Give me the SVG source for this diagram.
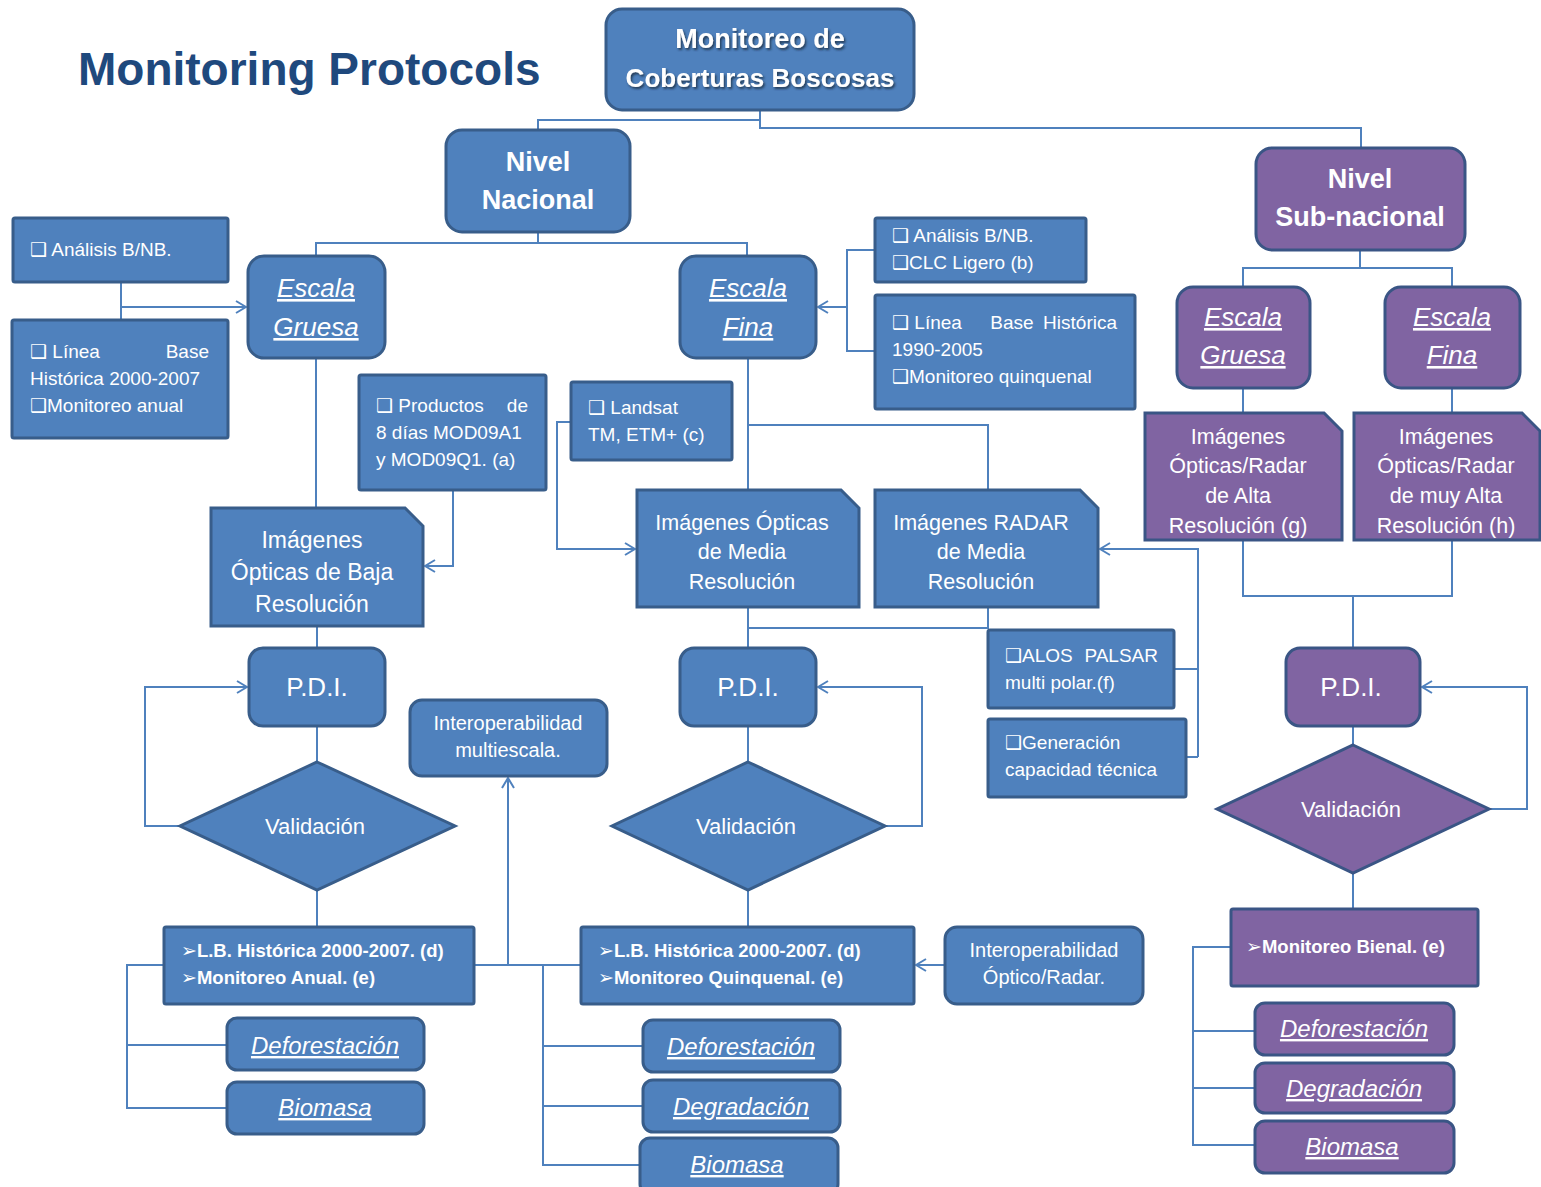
<svg xmlns="http://www.w3.org/2000/svg" width="1541" height="1187" viewBox="0 0 1541 1187">
<defs>
<style>
.b{fill:#4F81BD;stroke:#385D8A;stroke-width:3}
.p{fill:#8064A2;stroke:#3A5585;stroke-width:3}
.c{fill:none;stroke:#4F81BD;stroke-width:2}
.ca{fill:none;stroke:#4F81BD;stroke-width:2;marker-end:url(#a)}
text{font-family:"Liberation Sans","DejaVu Sans",sans-serif;fill:#fff}
.m{text-anchor:middle}
.e{text-anchor:end}
.h{font-size:27px;font-weight:bold}
.es{font-size:26px;font-style:italic;text-decoration:underline}
.s{font-size:19px}
.im{font-size:21.5px}
.pd{font-size:26px}
.v{font-size:22px}
.lb{font-size:18.5px;font-weight:bold}
.ar{font-family:"DejaVu Sans",sans-serif;font-size:19px}
.r{font-size:24px;font-style:italic;text-decoration:underline}
.io{font-size:20px}
</style>
<marker id="a" viewBox="0 0 12 14" refX="11" refY="7" markerWidth="12" markerHeight="14" markerUnits="userSpaceOnUse" orient="auto">
<path d="M1,1 L11,7 L1,13" fill="none" stroke="#4F81BD" stroke-width="2"/>
</marker>
<filter id="sh" x="-10%" y="-20%" width="120%" height="140%">
<feDropShadow dx="1.5" dy="2" stdDeviation="1.2" flood-color="#1a2a40" flood-opacity="0.8"/>
</filter>
</defs>
<rect width="1541" height="1187" fill="#fff"/>
<text x="78" y="85" style="font-size:46px;font-weight:bold;fill:#1F497D">Monitoring Protocols</text>

<g id="connectors">
<path class="c" d="M760,110 V128 H1361 V148"/>
<path class="c" d="M760,120 H538 V130"/>
<path class="c" d="M538,232 V243 H316 V256"/>
<path class="c" d="M538,243 H747 V256"/>
<path class="c" d="M121,282 V320"/>
<path class="ca" d="M121,307 H246"/>
<path class="c" d="M875,250 H847 V351 H875"/>
<path class="ca" d="M847,307 H818"/>
<path class="c" d="M316,358 V508"/>
<path class="ca" d="M453,490 V566 H425"/>
<path class="c" d="M748,358 V490"/>
<path class="c" d="M748,425 H988 V490"/>
<path class="ca" d="M571,422 H557 V549 H635"/>
<path class="c" d="M317,626 V648"/>
<path class="c" d="M317,726 V762"/>
<path class="ca" d="M180,826 H145 V687 H247"/>
<path class="c" d="M317,890 V927"/>
<path class="c" d="M748,607 V648"/>
<path class="c" d="M988,607 V628 H748"/>
<path class="c" d="M748,726 V762"/>
<path class="ca" d="M885,826 H922 V687 H818"/>
<path class="c" d="M748,890 V927"/>
<path class="c" d="M1174,669 H1198"/>
<path class="c" d="M1186,757 H1198"/>
<path class="ca" d="M1198,757 V549 H1100"/>
<path class="ca" d="M945,965 H916"/>
<path class="c" d="M164,965 H127 V1108 H227"/>
<path class="c" d="M127,1045 H227"/>
<path class="c" d="M474,965 H581"/>
<path class="ca" d="M508,965 V778"/>
<path class="c" d="M581,965 H543 V1165 H640"/>
<path class="c" d="M543,1046 H643"/>
<path class="c" d="M543,1106 H643"/>
<path class="c" d="M1360,250 V268 H1243 V287"/>
<path class="c" d="M1360,268 H1452 V287"/>
<path class="c" d="M1243,388 V413"/>
<path class="c" d="M1452,388 V413"/>
<path class="c" d="M1243,540 V596 H1452 V540"/>
<path class="c" d="M1353,596 V648"/>
<path class="c" d="M1353,726 V745"/>
<path class="ca" d="M1489,809 H1527 V687 H1422"/>
<path class="c" d="M1353,873 V909"/>
<path class="c" d="M1231,947 H1193 V1145 H1255"/>
<path class="c" d="M1193,1031 H1255"/>
<path class="c" d="M1193,1088 H1255"/>
</g>

<g id="n-top">
<rect class="b" x="606" y="9" width="308" height="101" rx="16"/>
<g filter="url(#sh)">
<text class="m h" x="760" y="48">Monitoreo  de</text>
<text class="m h" x="760" y="87" style="font-size:26px">Coberturas Boscosas</text>
</g>
</g>

<g id="n-nacional">
<rect class="b" x="446" y="130" width="184" height="102" rx="16"/>
<text class="m h" x="538" y="171">Nivel</text>
<text class="m h" x="538" y="209">Nacional</text>
</g>

<g id="n-subnacional">
<rect class="p" x="1256" y="148" width="209" height="102" rx="16"/>
<text class="m h" x="1360" y="188">Nivel</text>
<text class="m h" x="1360" y="226">Sub-nacional</text>
</g>

<g id="n-gruesa">
<rect class="b" x="248" y="256" width="137" height="102" rx="16"/>
<text class="m es" x="316" y="297">Escala</text>
<text class="m es" x="316" y="336">Gruesa</text>
</g>

<g id="n-fina">
<rect class="b" x="680" y="256" width="136" height="102" rx="16"/>
<text class="m es" x="748" y="297">Escala</text>
<text class="m es" x="748" y="336">Fina</text>
</g>

<g id="n-sub-gruesa">
<rect class="p" x="1177" y="287" width="133" height="101" rx="16"/>
<text class="m es" x="1243" y="326">Escala</text>
<text class="m es" x="1243" y="364">Gruesa</text>
</g>

<g id="n-sub-fina">
<rect class="p" x="1385" y="287" width="135" height="101" rx="16"/>
<text class="m es" x="1452" y="326">Escala</text>
<text class="m es" x="1452" y="364">Fina</text>
</g>

<g id="n-analisis1">
<rect class="b" x="13" y="218" width="215" height="64" rx="2"/>
<text class="s" x="30" y="256">❑ Análisis B/NB.</text>
</g>

<g id="n-linea1">
<rect class="b" x="12" y="320" width="216" height="118" rx="2"/>
<text class="s" x="30" y="358">❑ Línea</text>
<text class="s e" x="209" y="358">Base</text>
<text class="s" x="30" y="385">Histórica 2000-2007</text>
<text class="s" x="30" y="412">❑Monitoreo anual</text>
</g>

<g id="n-productos">
<rect class="b" x="359" y="375" width="187" height="115" rx="2"/>
<text class="s" x="376" y="412">❑ Productos</text>
<text class="s e" x="528" y="412">de</text>
<text class="s" x="376" y="439">8 días MOD09A1</text>
<text class="s" x="376" y="466">y MOD09Q1. (a)</text>
</g>

<g id="n-landsat">
<rect class="b" x="571" y="382" width="161" height="78" rx="2"/>
<text class="s" x="588" y="414">❑ Landsat</text>
<text class="s" x="588" y="441">TM, ETM+ (c)</text>
</g>

<g id="n-analisis2">
<rect class="b" x="875" y="218" width="211" height="64" rx="2"/>
<text class="s" x="892" y="242">❑ Análisis B/NB.</text>
<text class="s" x="892" y="269">❑CLC Ligero (b)</text>
</g>

<g id="n-linea2">
<rect class="b" x="875" y="295" width="260" height="114" rx="2"/>
<text class="s" x="892" y="329">❑ Línea</text>
<text class="s m" x="1012" y="329">Base</text>
<text class="s e" x="1117" y="329">Histórica</text>
<text class="s" x="892" y="356">1990-2005</text>
<text class="s" x="892" y="383">❑Monitoreo quinquenal</text>
</g>

<g id="n-baja">
<path class="b" d="M211,508 H405 L423,526 V626 H211 Z"/>
<text class="m" x="312" y="548" style="font-size:23px">Imágenes</text>
<text class="m" x="312" y="580" style="font-size:23px">Ópticas de Baja</text>
<text class="m" x="312" y="612" style="font-size:23px">Resolución</text>
</g>

<g id="n-opticas-media">
<path class="b" d="M637,490 H841 L859,508 V607 H637 Z"/>
<text class="m im" x="742" y="530">Imágenes Ópticas</text>
<text class="m im" x="742" y="559">de Media</text>
<text class="m im" x="742" y="589">Resolución</text>
</g>

<g id="n-radar-media">
<path class="b" d="M875,490 H1080 L1098,508 V607 H875 Z"/>
<text class="m im" x="981" y="530">Imágenes RADAR</text>
<text class="m im" x="981" y="559">de Media</text>
<text class="m im" x="981" y="589">Resolución</text>
</g>

<g id="n-alta">
<path class="p" d="M1145,413 H1324 L1342,431 V540 H1145 Z"/>
<text class="m im" x="1238" y="444">Imágenes</text>
<text class="m im" x="1238" y="473">Ópticas/Radar</text>
<text class="m im" x="1238" y="503">de Alta</text>
<text class="m im" x="1238" y="533">Resolución (g)</text>
</g>

<g id="n-muy-alta">
<path class="p" d="M1354,413 H1522 L1540,431 V540 H1354 Z"/>
<text class="m im" x="1446" y="444">Imágenes</text>
<text class="m im" x="1446" y="473">Ópticas/Radar</text>
<text class="m im" x="1446" y="503">de muy Alta</text>
<text class="m im" x="1446" y="533">Resolución (h)</text>
</g>

<g id="n-pdi1">
<rect class="b" x="249" y="648" width="136" height="78" rx="14"/>
<text class="m pd" x="317" y="696">P.D.I.</text>
</g>

<g id="n-pdi2">
<rect class="b" x="680" y="648" width="136" height="78" rx="14"/>
<text class="m pd" x="748" y="696">P.D.I.</text>
</g>

<g id="n-pdi3">
<rect class="p" x="1286" y="648" width="134" height="78" rx="14"/>
<text class="m pd" x="1351" y="696">P.D.I.</text>
</g>

<g id="n-val1">
<polygon class="b" points="317,762 455,826 317,890 180,826"/>
<text class="m v" x="315" y="834">Validación</text>
</g>

<g id="n-val2">
<polygon class="b" points="748,762 885,826 748,890 612,826"/>
<text class="m v" x="746" y="834">Validación</text>
</g>

<g id="n-val3">
<polygon class="p" points="1353,745 1489,809 1353,873 1217,809"/>
<text class="m v" x="1351" y="817">Validación</text>
</g>

<g id="n-interop-multi">
<rect class="b" x="410" y="700" width="197" height="76" rx="12"/>
<text class="m io" x="508" y="730">Interoperabilidad</text>
<text class="m io" x="508" y="757">multiescala.</text>
</g>

<g id="n-alos">
<rect class="b" x="988" y="630" width="186" height="78" rx="2"/>
<text class="s" x="1005" y="662">❑ALOS</text>
<text class="s e" x="1158" y="662">PALSAR</text>
<text class="s" x="1005" y="689">multi polar.(f)</text>
</g>

<g id="n-generacion">
<rect class="b" x="988" y="719" width="198" height="78" rx="2"/>
<text class="s" x="1005" y="749">❑Generación</text>
<text class="s" x="1005" y="776">capacidad técnica</text>
</g>

<g id="n-lb1">
<rect class="b" x="164" y="927" width="310" height="77" rx="2"/>
<text class="lb" x="181" y="957"><tspan class="ar">➢</tspan>L.B. Histórica 2000-2007. (d)</text>
<text class="lb" x="181" y="984"><tspan class="ar">➢</tspan>Monitoreo Anual. (e)</text>
</g>

<g id="n-lb2">
<rect class="b" x="581" y="927" width="333" height="77" rx="2"/>
<text class="lb" x="598" y="957"><tspan class="ar">➢</tspan>L.B. Histórica 2000-2007. (d)</text>
<text class="lb" x="598" y="984"><tspan class="ar">➢</tspan>Monitoreo Quinquenal. (e)</text>
</g>

<g id="n-interop-radar">
<rect class="b" x="945" y="927" width="198" height="77" rx="12"/>
<text class="m io" x="1044" y="957">Interoperabilidad</text>
<text class="m io" x="1044" y="984">Óptico/Radar.</text>
</g>

<g id="n-bienal">
<rect class="p" x="1231" y="909" width="247" height="77" rx="2"/>
<text class="lb" x="1246" y="953"><tspan class="ar">➢</tspan>Monitoreo Bienal. (e)</text>
</g>

<g id="n-def1">
<rect class="b" x="227" y="1018" width="197" height="52" rx="10"/>
<text class="m r" x="325" y="1054">Deforestación</text>
</g>
<g id="n-bio1">
<rect class="b" x="227" y="1082" width="197" height="52" rx="10"/>
<text class="m r" x="325" y="1116">Biomasa</text>
</g>

<g id="n-def2">
<rect class="b" x="643" y="1020" width="197" height="52" rx="10"/>
<text class="m r" x="741" y="1055">Deforestación</text>
</g>
<g id="n-deg2">
<rect class="b" x="643" y="1080" width="197" height="52" rx="10"/>
<text class="m r" x="741" y="1115">Degradación</text>
</g>
<g id="n-bio2">
<rect class="b" x="640" y="1138" width="198" height="56" rx="10"/>
<text class="m r" x="737" y="1173">Biomasa</text>
</g>

<g id="n-def3">
<rect class="p" x="1255" y="1003" width="199" height="52" rx="10"/>
<text class="m r" x="1354" y="1037">Deforestación</text>
</g>
<g id="n-deg3">
<rect class="p" x="1255" y="1063" width="199" height="50" rx="10"/>
<text class="m r" x="1354" y="1097">Degradación</text>
</g>
<g id="n-bio3">
<rect class="p" x="1255" y="1121" width="199" height="52" rx="10"/>
<text class="m r" x="1352" y="1155">Biomasa</text>
</g>
</svg>
